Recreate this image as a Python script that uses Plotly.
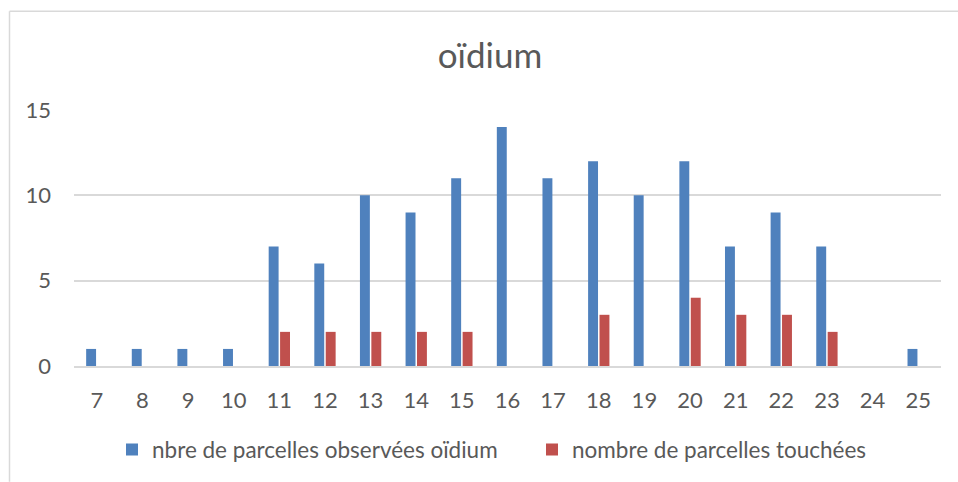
import plotly.graph_objects as go

# data
categories = [str(d) for d in range(7, 26)]
observees = [1, 1, 1, 1, 7, 6, 10, 9, 11, 14, 11, 12, 10, 12, 7, 9, 7, 0, 1]
touchees = [0, 0, 0, 0, 2, 2, 2, 2, 2, 0, 0, 3, 0, 4, 3, 3, 2, 0, 0]

FONT = "Lato"
GREY = "#595959"

W, H = 958, 482
l, r, t, b = 74, 17, 109.5, 116
pw, ph = W - l - r, H - t - b

fig = go.Figure()
fig.add_trace(go.Bar(name="nbre de parcelles observées oïdium", x=categories, y=observees,
                     marker_color="#4f81bd", marker_line_width=0))
fig.add_trace(go.Bar(name="nombre de parcelles touchées", x=categories, y=touchees,
                     marker_color="#c0504d", marker_line_width=0))

# chart frame: only left and top edges are visible in the reference
frame = dict(color="#d9d9d9", width=1.5)
fx0, fy1 = (9.5 - l) / pw, (H - b - 10.5) / ph
fig.add_shape(type="line", xref="paper", yref="paper", x0=fx0, x1=fx0, y0=-b / ph, y1=fy1,
              line=frame, layer="below")
fig.add_shape(type="line", xref="paper", yref="paper", x0=fx0, x1=(W - l) / pw, y0=fy1, y1=fy1,
              line=frame, layer="below")

fig.update_layout(
    width=W, height=H,
    margin=dict(l=l, r=r, t=t, b=b, autoexpand=False),
    paper_bgcolor="white", plot_bgcolor="white",
    barmode="group", bargap=0.5, bargroupgap=0.13,
    font=dict(family=FONT, color=GREY, size=22),
    title=dict(text="oïdium", x=490 / W, xanchor="center", y=1 - 56 / H, yanchor="middle",
               font=dict(size=35, color=GREY, family=FONT)),
    legend=dict(orientation="h", x=(112 - l) / pw, xanchor="left", y=(H - b - 450) / ph, yanchor="middle",
                font=dict(size=22.5, color=GREY), itemwidth=30, traceorder="normal",
                entrywidth=375, entrywidthmode="pixels"),
    showlegend=True,
)
fig.update_xaxes(type="category", showgrid=False, showline=True, linecolor="#d9d9d9", linewidth=1.5,
                 ticks="", tickfont=dict(size=22), ticklabelstandoff=14)
fig.update_yaxes(range=[0, 15], dtick=5, showgrid=True, gridcolor="#d9d9d9", gridwidth=1.5,
                 zeroline=False, showline=False, ticks="", tickfont=dict(size=22), ticklabelstandoff=22)

# drop the default page margin so the figure fills the window exactly
fig.write_html("out.html", config={"displayModeBar": False},
               post_script="document.body.style.margin='0';document.body.style.overflow='hidden';")
